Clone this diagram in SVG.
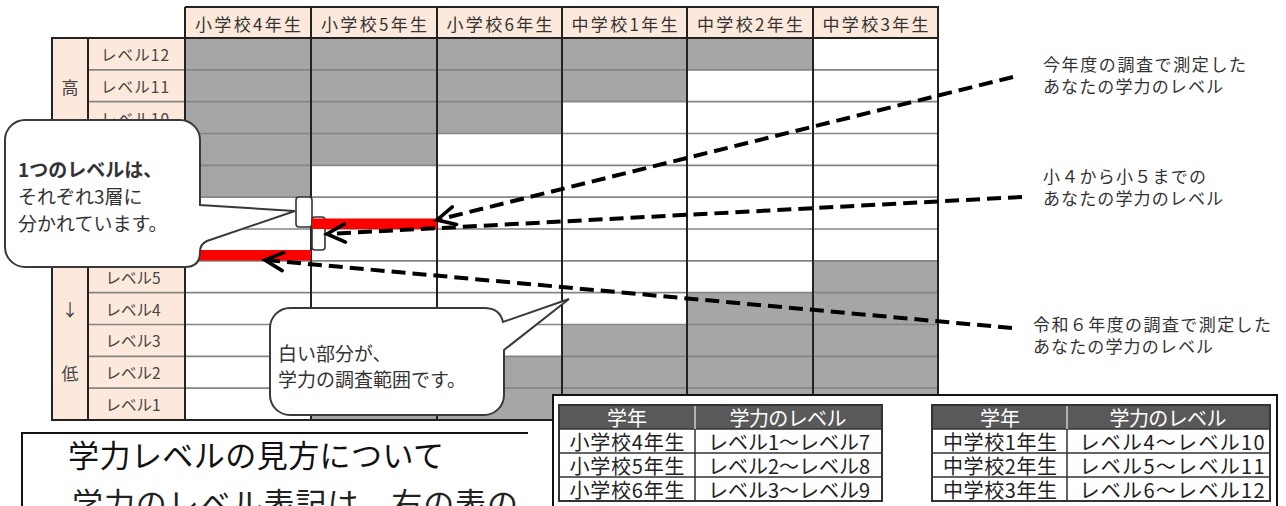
<svg xmlns="http://www.w3.org/2000/svg" width="1286" height="506" viewBox="0 0 1286 506">
<defs>
<style>
text{font-family:"Noto Sans CJK JP","Noto Sans",sans-serif;}
.hd{font-size:17px;fill:#333;text-anchor:middle;dominant-baseline:central;}
.lb{font-size:15.5px;fill:#444;text-anchor:middle;dominant-baseline:central;}
.big{font-size:17px;fill:#444;text-anchor:middle;dominant-baseline:central;}
.gray{fill:#a6a6a6;}
.peach{fill:#fce9db;}
.rowl{stroke:#858585;stroke-width:1.6;fill:none;}
.coll{stroke:#222;stroke-width:2;fill:none;}
.call{fill:#fff;stroke:#3a3a3a;stroke-width:2;}
.ct{font-size:19px;fill:#333;dominant-baseline:central;}
.rt{font-size:17px;fill:#333;dominant-baseline:central;}
.dash{stroke:#000;stroke-width:4;stroke-dasharray:14 7;fill:none;}
.th{fill:#595959;}
.tb{fill:#fff;stroke:#333;stroke-width:1.5;}
.tt{font-size:20px;fill:#222;text-anchor:middle;dominant-baseline:central;}
.tw{font-size:20px;fill:#fff;text-anchor:middle;dominant-baseline:central;}
.red{fill:#ff0000;}
</style>
<marker id="arr" markerUnits="userSpaceOnUse" markerWidth="26" markerHeight="26" viewBox="-22 -13 26 26" refX="0" refY="0" orient="auto">
<path d="M -18 -9 L 0 0 L -18 9" fill="none" stroke="#000" stroke-width="3.6" stroke-dasharray="none" stroke-linecap="round"/>
</marker>
</defs>
<rect width="1286" height="506" fill="#fff"/>

<g id="level-grid">
<!-- header -->
<rect class="peach" x="185" y="7" width="753" height="31"/>
<!-- left label table -->
<rect class="peach" x="52" y="38" width="133" height="382"/>
<!-- white grid area -->
<rect x="185" y="38" width="753" height="382" fill="#fff"/>
<!-- gray cells -->
<rect class="gray" x="185" y="38" width="126" height="159.17"/>
<rect class="gray" x="311" y="38" width="126" height="127.33"/>
<rect class="gray" x="311" y="388.17" width="126" height="31.83"/>
<rect class="gray" x="437" y="38" width="125" height="95.5"/>
<rect class="gray" x="437" y="356.33" width="125" height="63.67"/>
<rect class="gray" x="562" y="38" width="125" height="63.67"/>
<rect class="gray" x="562" y="324.5" width="125" height="95.5"/>
<rect class="gray" x="687" y="38" width="126" height="31.83"/>
<rect class="gray" x="687" y="292.67" width="126" height="127.33"/>
<rect class="gray" x="813" y="260.83" width="125" height="159.17"/>
<!-- row lines -->
<path class="rowl" d="M88 69.83H938M88 101.67H938M88 133.5H938M88 165.33H938M88 197.17H938M88 229H938M88 260.83H938M88 292.67H938M88 324.5H938M88 356.33H938M88 388.17H938"/>
<!-- column lines and borders -->
<path class="coll" d="M185 7H938V420H52V38H185M185 7V420M311 7V420M437 7V420M562 7V420M687 7V420M813 7V420M88 38V420M185 38H938"/>
<!-- header texts -->
<text class="hd" x="248" y="23" textLength="106" lengthAdjust="spacing">小学校4年生</text>
<text class="hd" x="374" y="23" textLength="106" lengthAdjust="spacing">小学校5年生</text>
<text class="hd" x="499.5" y="23" textLength="106" lengthAdjust="spacing">小学校6年生</text>
<text class="hd" x="624.5" y="23" textLength="106" lengthAdjust="spacing">中学校1年生</text>
<text class="hd" x="750" y="23" textLength="106" lengthAdjust="spacing">中学校2年生</text>
<text class="hd" x="875.5" y="23" textLength="106" lengthAdjust="spacing">中学校3年生</text>
<!-- row labels -->
<text class="lb" x="135" y="54" textLength="68" lengthAdjust="spacing">レベル12</text>
<text class="lb" x="135" y="86" textLength="68" lengthAdjust="spacing">レベル11</text>
<text class="lb" x="135" y="117.5" textLength="68" lengthAdjust="spacing">レベル10</text>
<text class="lb" x="133" y="149.4">レベル9</text>
<text class="lb" x="133" y="181.2">レベル8</text>
<text class="lb" x="133" y="213">レベル7</text>
<text class="lb" x="133" y="244.9">レベル6</text>
<text class="lb" x="133" y="276.7">レベル5</text>
<text class="lb" x="133" y="308.6">レベル4</text>
<text class="lb" x="133" y="340.4">レベル3</text>
<text class="lb" x="133" y="372.2">レベル2</text>
<text class="lb" x="133" y="404">レベル1</text>
<text class="big" x="70" y="86">高</text>
<text class="big" x="70" y="308">↓</text>
<text class="big" x="70" y="372">低</text>
<!-- layer highlight boxes -->
<rect x="296" y="197" width="16" height="30" rx="3" fill="#fff" stroke="#333" stroke-width="1.6"/>
<rect x="312" y="217" width="13" height="33" rx="3" fill="#fff" stroke="#333" stroke-width="1.6"/>
<!-- red bars -->
<rect class="red" x="185" y="250" width="126" height="10.5"/>
<rect class="red" x="312" y="218.5" width="125" height="10.5"/>
</g>

<g id="callout-layers">
<path class="call" d="M25 120H180A20 20 0 0 1 200 140V205L295 211L207 241Q200 244 200 252Q200 267 185 267H25A20 20 0 0 1 5 247V140A20 20 0 0 1 25 120Z"/>
<text class="ct" x="18" y="168" font-weight="bold">1つのレベルは、</text>
<text class="ct" x="18" y="195">それぞれ3層に</text>
<text class="ct" x="18" y="222">分かれています。</text>
</g>

<g id="callout-range">
<path class="call" d="M290 308H484Q500 308 503 322L569 299L504 350V395A20 20 0 0 1 484 415H290A20 20 0 0 1 270 395V328A20 20 0 0 1 290 308Z"/>
<text class="ct" x="278" y="352">白い部分が、</text>
<text class="ct" x="278" y="378">学力の調査範囲です。</text>
</g>

<g id="connectors">
<path class="dash" d="M1013 77L437 220" marker-end="url(#arr)"/>
<path class="dash" d="M1022 197L327 234" marker-end="url(#arr)"/>
<path class="dash" d="M1012 328L265 260" marker-end="url(#arr)"/>
</g>

<g id="label-this-year">
<text class="rt" x="1043" y="63" textLength="203" lengthAdjust="spacing">今年度の調査で測定した</text>
<text class="rt" x="1043" y="85" textLength="180" lengthAdjust="spacing">あなたの学力のレベル</text>
</g>
<g id="label-g4-g5">
<text class="rt" x="1043" y="175" textLength="163" lengthAdjust="spacing">小４から小５までの</text>
<text class="rt" x="1043" y="197" textLength="180" lengthAdjust="spacing">あなたの学力のレベル</text>
</g>
<g id="label-r6">
<text class="rt" x="1033" y="323" textLength="238" lengthAdjust="spacing">令和６年度の調査で測定した</text>
<text class="rt" x="1033" y="345" textLength="180" lengthAdjust="spacing">あなたの学力のレベル</text>
</g>

<g id="tables-box">
<rect x="553" y="395" width="724" height="130" fill="#fff" stroke="#111" stroke-width="2"/>
<!-- left table -->
<rect class="th" x="559" y="405" width="323" height="24"/>
<rect class="tb" x="559" y="429" width="323" height="72"/>
<path d="M559 453H882M559 477H882M695 405V501" stroke="#333" stroke-width="1.5" fill="none"/>
<path d="M695 405V429" stroke="#fff" stroke-width="1.2"/>
<rect x="559" y="405" width="323" height="96" fill="none" stroke="#333" stroke-width="2"/>
<text class="tw" x="627" y="417">学年</text>
<text class="tw" x="788" y="417" textLength="117" lengthAdjust="spacing">学力のレベル</text>
<text class="tt" x="627" y="441" textLength="115" lengthAdjust="spacing">小学校4年生</text>
<text class="tt" x="627" y="465" textLength="115" lengthAdjust="spacing">小学校5年生</text>
<text class="tt" x="627" y="489" textLength="115" lengthAdjust="spacing">小学校6年生</text>
<text class="tt" x="789" y="441" textLength="162" lengthAdjust="spacing">レベル1～レベル7</text>
<text class="tt" x="789" y="465" textLength="162" lengthAdjust="spacing">レベル2～レベル8</text>
<text class="tt" x="789" y="489" textLength="162" lengthAdjust="spacing">レベル3～レベル9</text>
<!-- right table -->
<rect class="th" x="932" y="405" width="338" height="24"/>
<rect class="tb" x="932" y="429" width="338" height="72"/>
<path d="M932 453H1270M932 477H1270M1067 405V501" stroke="#333" stroke-width="1.5" fill="none"/>
<path d="M1067 405V429" stroke="#fff" stroke-width="1.2"/>
<rect x="932" y="405" width="338" height="96" fill="none" stroke="#333" stroke-width="2"/>
<text class="tw" x="1000" y="417">学年</text>
<text class="tw" x="1168" y="417" textLength="117" lengthAdjust="spacing">学力のレベル</text>
<text class="tt" x="1000" y="441" textLength="114" lengthAdjust="spacing">中学校1年生</text>
<text class="tt" x="1000" y="465" textLength="114" lengthAdjust="spacing">中学校2年生</text>
<text class="tt" x="1000" y="489" textLength="114" lengthAdjust="spacing">中学校3年生</text>
<text class="tt" x="1172" y="441" textLength="185" lengthAdjust="spacing">レベル4～レベル10</text>
<text class="tt" x="1172" y="465" textLength="185" lengthAdjust="spacing">レベル5～レベル11</text>
<text class="tt" x="1172" y="489" textLength="185" lengthAdjust="spacing">レベル6～レベル12</text>
</g>

<g id="howto-box">
<rect x="22" y="433" width="506" height="90" fill="#fff"/>
<path d="M22 520V433H528" fill="none" stroke="#111" stroke-width="2"/>
<text x="68" y="453" font-size="31" fill="#111" dominant-baseline="central" textLength="376" lengthAdjust="spacing">学力レベルの見方について</text>
<text x="72" y="501" font-size="31" fill="#222" dominant-baseline="central" textLength="446" lengthAdjust="spacing">学力のレベル表記は、右の表の</text>
</g>
</svg>
